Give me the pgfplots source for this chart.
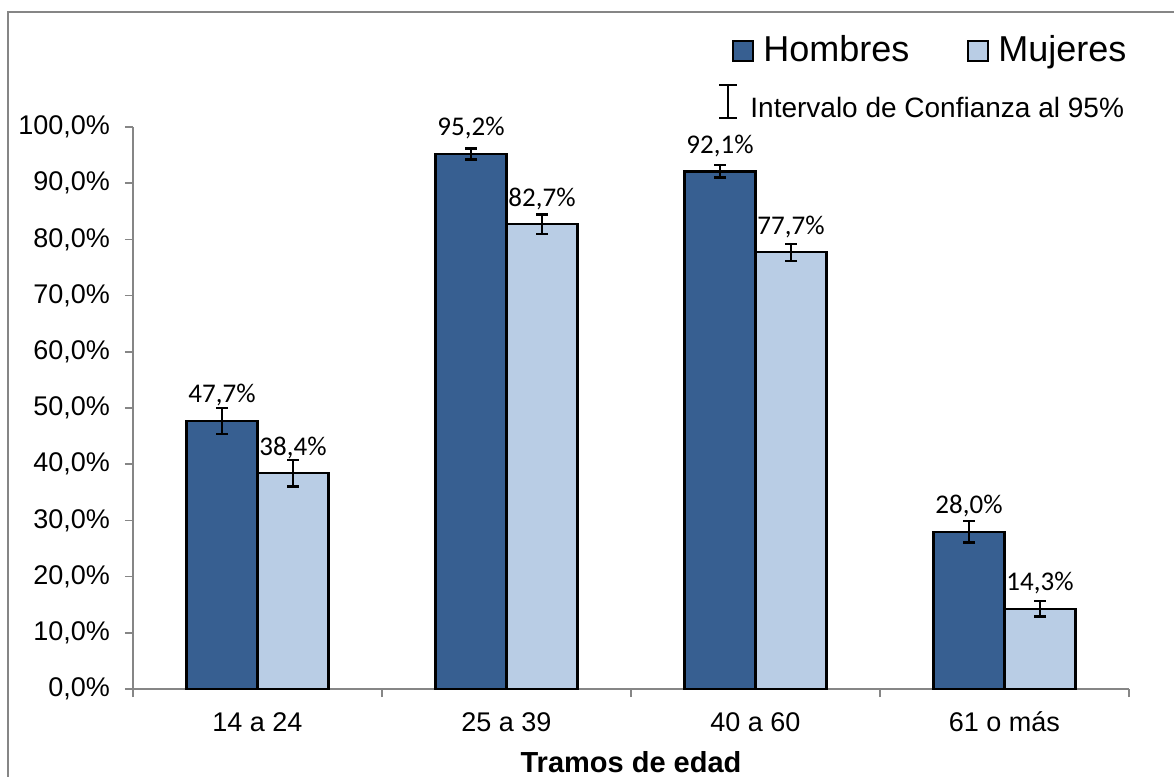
\documentclass[border=0pt]{standalone}
\usepackage{pgfplots}
\pgfplotsset{compat=1.18}
\usepackage{pgfplotstable}
\usepackage{fontspec}
\setmainfont{Liberation Sans}
\newfontfamily\carlito{Carlito}
\definecolor{hombres}{HTML}{375F91}
\definecolor{mujeres}{HTML}{B9CDE5}
\definecolor{axisgray}{HTML}{868686}

% tramo, Hombres, error, Mujeres, error
\pgfplotstableread{
x h he m me
0 47.7 2.3 38.4 2.4
1 95.2 1.0 82.7 1.7
2 92.1 1.1 77.7 1.5
3 28.0 1.9 14.3 1.4
}\datos

\begin{document}
\begin{tikzpicture}
\useasboundingbox (0,0) rectangle (587pt,-388.5pt);
\draw[axisgray, line width=0.6pt] (4pt,-400pt) -- (4pt,-6pt) -- (600pt,-6pt);
\begin{axis}[
  at={(66.5pt,-344.5pt)}, anchor=south west,
  scale only axis, width=498pt, height=281pt,
  ybar=0pt, bar width=35.5pt,
  xmin=-0.5, xmax=3.5, ymin=0, ymax=100,
  axis x line*=bottom, axis y line*=left,
  axis line style={axisgray, line width=0.8pt},
  tick align=outside,
  xtick={0,1,2,3},
  xticklabels={14 a 24, 25 a 39, 40 a 60, 61 o más},
  major x tick style={draw=none},
  minor xtick={-0.5,0.5,1.5,2.5,3.5},
  minor tick length=4pt,
  minor x tick style={axisgray, line width=0.8pt},
  ytick={0,10,...,100},
  major tick length=4pt,
  major y tick style={axisgray, line width=0.8pt},
  /pgf/number format/assume math mode=true,
  yticklabel={\pgfmathprintnumber[fixed,fixed zerofill,precision=1,use comma]{\tick}\%},
  tick label style={font=\fontsize{13.5}{16}\selectfont},
  xticklabel style={anchor=base, yshift=-17pt},
  yticklabel style={anchor=east, xshift=-4pt},
  xlabel={\textbf{Tramos de edad}},
  xlabel style={font=\fontsize{14.5}{17}\selectfont, at={(axis description cs:0.5,0)}, anchor=base, yshift=-41.5pt},
  nodes near coords={\pgfmathprintnumber[fixed,fixed zerofill,precision=1,use comma]{\pgfplotspointmeta}\%},
  nodes near coords style={font=\carlito\fontsize{13.5}{16}\selectfont, anchor=base, inner sep=0pt, yshift=9pt, text=black},
  error bars/error bar style={black, line width=1.2pt},
  error bars/error mark options={rotate=90, mark size=3pt, line width=1.2pt, black},
  clip=false,
]
\addplot[fill=hombres, draw=black, line width=1.1pt,
  error bars/.cd, y dir=both, y explicit]
  table[x=x, y=h, y error=he] {\datos};
\addplot[fill=mujeres, draw=black, line width=1.1pt,
  error bars/.cd, y dir=both, y explicit]
  table[x=x, y=m, y error=me] {\datos};
\end{axis}
% leyenda
\draw[black, line width=1pt, fill=hombres] (366.5pt,-20.5pt) rectangle (376.5pt,-30.5pt);
\node[anchor=base west, inner sep=0pt, font=\fontsize{18}{21}\selectfont] at (381.5pt,-30.5pt) {Hombres};
\draw[black, line width=1pt, fill=mujeres] (484pt,-20.5pt) rectangle (494pt,-30.5pt);
\node[anchor=base west, inner sep=0pt, font=\fontsize{18}{21}\selectfont] at (499pt,-30.5pt) {Mujeres};
\draw[black, line width=0.6pt] (364pt,-42.5pt) -- (364pt,-59pt)
  (359.5pt,-42.5pt) -- (368.5pt,-42.5pt) (359.5pt,-59pt) -- (368.5pt,-59pt);
\node[anchor=base west, inner sep=0pt, font=\fontsize{14}{17}\selectfont] at (375pt,-58.5pt) {Intervalo de Confianza al 95\%};
\end{tikzpicture}
\end{document}
